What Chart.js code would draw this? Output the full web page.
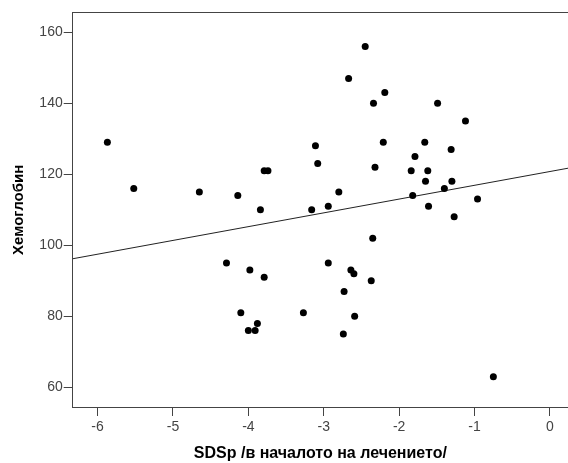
<!DOCTYPE html>
<html>
<head>
<meta charset="utf-8">
<script src="https://cdn.jsdelivr.net/npm/chart.js@4"></script>
<style>
    html, body { margin: 0; padding: 0; background: #fff; overflow: hidden; }
    #wrap { width: 568px; height: 463px; }
</style>
</head>
<body>
<div id="wrap"><canvas id="chart"></canvas></div>
<script>
// SDSp at start of treatment vs haemoglobin
const sdsValues = [
    -5.87, -5.52, -4.65, -4.14, -3.84, -3.79, -3.74,
    -2.45, -2.67, -2.19, -2.34, -1.49, -1.12, -3.11, -2.21, -1.66, -1.31,
    -3.08, -1.79, -2.32, -1.84, -1.62, -1.65, -1.30, -1.40, -2.80, -1.82,
    -0.96, -3.16, -2.94, -1.61, -1.27,
    -4.29, -3.98, -3.79, -4.10, -3.88, -4.00, -3.91,
    -2.35, -2.94, -2.64, -2.60, -2.37, -2.73, -3.27, -2.59, -2.74, -0.75
];
const hbValues = [
    129, 116, 115, 114, 110, 121, 121,
    156, 147, 143, 140, 140, 135, 128, 129, 129, 127,
    123, 125, 122, 121, 121, 118, 118, 116, 115, 114,
    113, 110, 111, 111, 108,
    95, 93, 91, 81, 78, 76, 76,
    102, 95, 93, 92, 90, 87, 81, 80, 75, 63
];

// fit line end points
const fitX = [-6.33, 0.24];
const fitY = [96.2, 121.7];

const xTicks = [-6, -5, -4, -3, -2, -1, 0];
const yTicks = [60, 80, 100, 120, 140, 160];

const FONT = 'Liberation Sans, Arial, sans-serif';
const AXIS_COLOR = '#444';

const points = sdsValues.map((x, i) => ({ x: x, y: hbValues[i] }));
const fitLine = fitX.map((x, i) => ({ x: x, y: fitY[i] }));

new Chart(document.getElementById('chart'), {
    type: 'scatter',
    data: {
        datasets: [
            {
                data: points,
                pointRadius: 3.5,
                pointBackgroundColor: '#000',
                pointBorderWidth: 0,
                showLine: false
            },
            {
                type: 'line',
                data: fitLine,
                borderColor: '#222',
                borderWidth: 1,
                pointRadius: 0,
                fill: false
            }
        ]
    },
    options: {
        responsive: true,
        maintainAspectRatio: false,
        animation: false,
        // plot runs right up to the canvas edge, like the cropped original
        layout: { padding: 0, autoPadding: false },
        plugins: {
            legend: { display: false },
            tooltip: { enabled: false }
        },
        scales: {
            x: {
                type: 'linear',
                min: -6.33,
                max: 0.24,
                afterBuildTicks: (s) => { s.ticks = xTicks.map(v => ({ value: v })); },
                afterFit: (s) => { s.height = 56; },
                border: { display: true, color: AXIS_COLOR, width: 1 },
                grid: { drawOnChartArea: false, tickLength: 9, color: AXIS_COLOR },
                ticks: {
                    color: '#444',
                    padding: 3,
                    font: { family: FONT, size: 14 },
                    callback: (v) => String(v)
                },
                title: {
                    display: true,
                    text: 'SDSp /в началото на лечението/',
                    color: '#000',
                    font: { family: FONT, size: 16, weight: 'bold' },
                    padding: { top: 4, bottom: 0 }
                }
            },
            xTop: {
                type: 'linear',
                position: 'top',
                min: -6.33,
                max: 0.24,
                afterFit: (s) => { s.height = 12.7; },
                border: { display: true, color: AXIS_COLOR, width: 1 },
                grid: { display: false },
                ticks: { display: false }
            },
            y: {
                type: 'linear',
                min: 54.45,
                max: 165.5,
                afterBuildTicks: (s) => { s.ticks = yTicks.map(v => ({ value: v })); },
                afterFit: (s) => { s.width = 72.7; },
                border: { display: true, color: AXIS_COLOR, width: 1 },
                grid: { drawOnChartArea: false, tickLength: 9, color: AXIS_COLOR },
                ticks: {
                    color: '#444',
                    padding: 1,
                    font: { family: FONT, size: 14 },
                    callback: (v) => String(v)
                },
                title: {
                    display: true,
                    text: 'Хемоглобин',
                    color: '#000',
                    font: { family: FONT, size: 15, weight: 'bold' },
                    padding: { top: 10, bottom: 0 }
                }
            }
        }
    }
});
</script>
</body>
</html>
